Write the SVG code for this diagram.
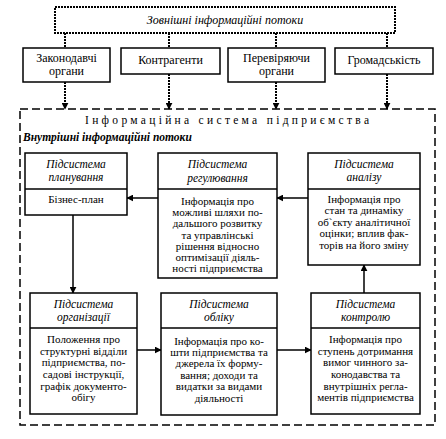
<svg xmlns="http://www.w3.org/2000/svg" width="446" height="439" viewBox="0 0 446 439">
<defs>
<marker id="ah" viewBox="0 0 10 10" refX="9" refY="5" markerWidth="7" markerHeight="7" markerUnits="userSpaceOnUse" orient="auto"><path d="M0,0 L10,5 L0,10 z" fill="#000"/></marker>
<style>
text{fill:#000;text-anchor:middle}
.box{fill:#fff;stroke:#000;stroke-width:1.5}
.t{font-size:12px}
.b{font-size:11px}
.h{font-size:11.5px;font-style:italic}
.dot{fill:none;stroke:#000;stroke-width:2;stroke-dasharray:2 1}
.dash{fill:none;stroke:#000;stroke-width:1.5;stroke-dasharray:8 4}
.sol{fill:none;stroke:#000;stroke-width:1.5}
</style>
</defs>
<rect width="446" height="439" fill="#fff"/>
<g font-family="'Liberation Serif', 'DejaVu Serif', serif">
<g id="external">
<rect x="55" y="7" width="340" height="26" class="dot"/>
<text x="225" y="24" class="t" font-style="italic">Зовнішні інформаційні потоки</text>
</g>
<g id="system">
<rect x="20" y="109" width="415" height="316" class="dash"/>
<text x="227" y="124" font-size="11.5" textLength="284" lengthAdjust="spacing">Інформаційна система підприємства</text>
<text x="23" y="141" font-size="11.5" font-style="italic" font-weight="bold" style="text-anchor:start">Внутрішні інформаційні потоки</text>
</g>
<g id="connectors">
<line x1="65" y1="33" x2="65" y2="48" class="dot"/>
<line x1="169" y1="33" x2="169" y2="48" class="dot"/>
<line x1="276" y1="33" x2="276" y2="48" class="dot"/>
<line x1="387" y1="33" x2="387" y2="48" class="dot"/>
<line x1="65" y1="82" x2="65" y2="109" class="dot" marker-end="url(#ah)"/>
<line x1="169" y1="74" x2="169" y2="109" class="dot" marker-end="url(#ah)"/>
<line x1="276" y1="82" x2="276" y2="109" class="dot" marker-end="url(#ah)"/>
<line x1="387" y1="74" x2="387" y2="109" class="dot" marker-end="url(#ah)"/>
<line x1="308" y1="198" x2="277" y2="198" class="sol" marker-end="url(#ah)"/>
<line x1="158" y1="198" x2="127" y2="198" class="sol" marker-end="url(#ah)"/>
<line x1="73" y1="215" x2="73" y2="293" class="sol" marker-end="url(#ah)"/>
<line x1="137" y1="350" x2="161" y2="350" class="sol" marker-end="url(#ah)"/>
<line x1="277" y1="350" x2="311" y2="350" class="sol" marker-end="url(#ah)"/>
<line x1="364" y1="293" x2="364" y2="265" class="sol" marker-end="url(#ah)"/>
</g>
<g id="zakonodavchi">
<rect x="23" y="48" width="87" height="34" class="box"/>
<text x="66.5" y="62" class="t">Законодавчі</text>
<text x="66.5" y="75" class="t">органи</text>
</g>
<g id="kontragenty">
<rect x="121" y="48" width="99" height="26" class="box"/>
<text x="170.5" y="64" class="t">Контрагенти</text>
</g>
<g id="pereviryayuchi">
<rect x="228" y="48" width="97" height="34" class="box"/>
<text x="276.5" y="62" class="t">Перевіряючи</text>
<text x="276.5" y="75" class="t">органи</text>
</g>
<g id="gromadskist">
<rect x="335" y="48" width="98" height="26" class="box"/>
<text x="384" y="64" class="t">Громадськість</text>
</g>
<g id="planuvannya">
<rect x="25" y="153" width="102" height="62" class="box"/>
<line x1="25" y1="189" x2="127" y2="189" class="sol"/>
<text x="76" y="168" class="h">Підсистема</text>
<text x="76" y="181" class="h">планування</text>
<text x="76" y="203" class="b">Бізнес-план</text>
</g>
<g id="regulyuvannya">
<rect x="158" y="153" width="119" height="125" class="box"/>
<line x1="158" y1="189" x2="277" y2="189" class="sol"/>
<text x="217.5" y="168" class="h">Підсистема</text>
<text x="217.5" y="182" class="h">регулювання</text>
<text x="217.5" y="205" class="b">Інформація про</text>
<text x="217.5" y="216" class="b">можливі шляхи по-</text>
<text x="217.5" y="227" class="b">дальшого розвитку</text>
<text x="217.5" y="239" class="b">та управлінські</text>
<text x="217.5" y="250" class="b">рішення  відносно</text>
<text x="217.5" y="261" class="b">оптимізації діяль-</text>
<text x="217.5" y="272" class="b">ності підприємства</text>
</g>
<g id="analizu">
<rect x="308" y="153" width="112" height="112" class="box"/>
<line x1="308" y1="189" x2="420" y2="189" class="sol"/>
<text x="364" y="168" class="h">Підсистема</text>
<text x="364" y="181" class="h">аналізу</text>
<text x="364" y="203" class="b">Інформація про</text>
<text x="364" y="214" class="b">стан та динаміку</text>
<text x="364" y="226" class="b">об`єкту аналітичної</text>
<text x="364" y="237" class="b">оцінки; вплив фак-</text>
<text x="364" y="249" class="b">торів на його зміну</text>
</g>
<g id="organizatsii">
<rect x="30" y="293" width="107" height="121" class="box"/>
<line x1="30" y1="328" x2="137" y2="328" class="sol"/>
<text x="83.5" y="308" class="h">Підсистема</text>
<text x="83.5" y="321" class="h">організації</text>
<text x="83.5" y="343" class="b">Положення про</text>
<text x="83.5" y="355" class="b">структурні відділи</text>
<text x="83.5" y="366" class="b">підприємства, по-</text>
<text x="83.5" y="378" class="b">садові інструкції,</text>
<text x="83.5" y="390" class="b">графік документо-</text>
<text x="83.5" y="401" class="b">обігу</text>
</g>
<g id="obliku">
<rect x="161" y="293" width="116" height="122" class="box"/>
<line x1="161" y1="328" x2="277" y2="328" class="sol"/>
<text x="219" y="308" class="h">Підсистема</text>
<text x="219" y="321" class="h">обліку</text>
<text x="219" y="345" class="b">Інформація про ко-</text>
<text x="219" y="356" class="b">шти підприємства та</text>
<text x="219" y="367" class="b">джерела їх форму-</text>
<text x="219" y="379" class="b">вання;  доходи та</text>
<text x="219" y="390" class="b">видатки за видами</text>
<text x="219" y="402" class="b">діяльності</text>
</g>
<g id="kontrolyu">
<rect x="311" y="293" width="109" height="121" class="box"/>
<line x1="311" y1="328" x2="420" y2="328" class="sol"/>
<text x="365.5" y="308" class="h">Підсистема</text>
<text x="365.5" y="321" class="h">контролю</text>
<text x="365.5" y="343" class="b">Інформація про</text>
<text x="365.5" y="355" class="b">ступень дотримання</text>
<text x="365.5" y="366" class="b">вимог чинного за-</text>
<text x="365.5" y="378" class="b">конодавства та</text>
<text x="365.5" y="390" class="b">внутрішніх регла-</text>
<text x="365.5" y="401" class="b">ментів підприємства</text>
</g>
</g>
</svg>
